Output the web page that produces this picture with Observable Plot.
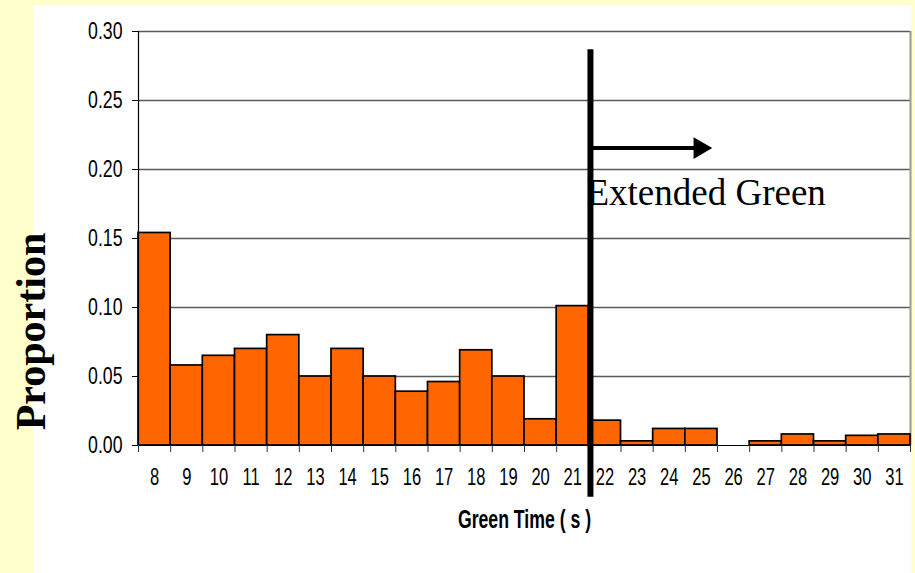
<!DOCTYPE html>
<html><head><meta charset="utf-8">
<script src="https://cdn.jsdelivr.net/npm/d3@7"></script>
<script src="https://cdn.jsdelivr.net/npm/@observablehq/plot@0.6"></script>
<style>
html,body{margin:0;padding:0;background:#FFFFCC;overflow:hidden;}
#wrap{position:relative;width:915px;height:573px;}
#panel{position:absolute;left:33px;top:5px;width:878px;height:568px;background:#ffffff;}
#chart{position:absolute;left:0;top:0;}
</style></head><body>
<div id="wrap"><div id="panel"></div><div id="chart"></div></div>
<script>
const greenTimes = [8,9,10,11,12,13,14,15,16,17,18,19,20,21,22,23,24,25,26,27,28,29,30,31];
const proportions = [0.154,0.058,0.065,0.070,0.080,0.050,0.070,0.050,0.039,0.046,0.069,0.050,0.019,0.101,0.018,0.003,0.012,0.012,0,0.003,0.008,0.003,0.007,0.008];
const yTicks = [0,0.05,0.10,0.15,0.20,0.25,0.30];
const gridLines = [0.05,0.10,0.15,0.20,0.25,0.30];
const extendedStart = 21.55;
const arrowEnd = 25.15;
const arrowLevel = 0.2155;
const annotationLevel = 0.1825;
const annotationText = "Extended Green";
const xLabel = "Green Time ( s )";
const yLabel = "Proportion";

const data = greenTimes.map((t, i) => ({t, p: proportions[i]}));
const boundaries = greenTimes.map(t => t - 0.5).concat([greenTimes[greenTimes.length - 1] + 0.5]);
const xMin = boundaries[0], xMax = boundaries[boundaries.length - 1];
const narrow = "'Liberation Sans Narrow', 'Arial Narrow', 'Liberation Sans', Arial, sans-serif";
const serif = "'Liberation Serif', 'Times New Roman', serif";

const chart = Plot.plot({
  width: 915,
  height: 573,
  marginLeft: 138,
  marginRight: 5,
  marginTop: 31,
  marginBottom: 128,
  style: {background: "transparent", overflow: "visible"},
  x: {domain: [xMin, xMax]},
  y: {domain: [0, 0.30]},
  marks: [
    Plot.ruleY(gridLines, {stroke: "#5a5a5a", strokeWidth: 1.3}),
    Plot.ruleX([xMax], {y1: 0, y2: 0.30, stroke: "#9a9a9a", strokeWidth: 2}),
    Plot.rectY(data.filter(d => d.p > 0), {x1: d => d.t - 0.5, x2: d => d.t + 0.5, y: "p", fill: "#FF6600", stroke: "#000", strokeWidth: 1.7}),
    Plot.ruleY([0], {stroke: "#000", strokeWidth: 1.2}),
    Plot.ruleX([xMin], {y1: 0, y2: 0.30, stroke: "#000", strokeWidth: 1.2}),
    Plot.axisY({ticks: yTicks, tickFormat: d3.format(".2f"), tickSize: 6, tickPadding: 10, label: null, fontSize: 23, fontFamily: narrow, color: "#000"}),
    Plot.axisX({ticks: greenTimes, tickFormat: d => String(d), tickSize: 0, tickPadding: 23, label: null, fontSize: 23, fontFamily: narrow, color: "#000"}),
    Plot.axisX({ticks: boundaries, tickFormat: () => "", tickSize: 7, label: null, stroke: "#333"}),
    Plot.text([xLabel], {frameAnchor: "bottom", textAnchor: "middle", dy: 82, fontSize: 26, fontWeight: "bold", fontFamily: narrow, fill: "#000"}),
    Plot.text([yLabel], {frameAnchor: "left", textAnchor: "middle", rotate: -90, dx: -107, dy: 93, fontSize: 42, fontWeight: "bold", fontFamily: serif, fill: "#000"}),
    Plot.ruleX([extendedStart], {y1: -0.0375, y2: 0.2867, stroke: "#000", strokeWidth: 6}),
    Plot.ruleY([arrowLevel], {x1: extendedStart, x2: arrowEnd - 0.3, stroke: "#000", strokeWidth: 4}),
    Plot.dot([arrowLevel], {x: () => arrowEnd - 0.2, y: d => d, symbol: "triangle", rotate: 90, r: 8, fill: "#000", stroke: "none"}),
    Plot.text([annotationText], {x: () => extendedStart, y: () => annotationLevel, textAnchor: "start", dx: -4, fontSize: 37, fontFamily: serif, fill: "#000"})
  ]
});
document.getElementById("chart").appendChild(chart);

// Condense the sans-serif texts horizontally (Arial Narrow look of the original)
function condenseText(t, s) {
  let x = parseFloat(t.getAttribute("x"));
  if (!isFinite(x)) x = 0;
  const tr = t.getAttribute("transform") || "";
  t.setAttribute("transform", `${tr} translate(${x},0) scale(${s},1) translate(${-x},0)`);
}
chart.querySelectorAll('g[aria-label="y-axis tick label"] text').forEach(t => condenseText(t, 0.77));
chart.querySelectorAll('g[aria-label="x-axis tick label"] text').forEach(t => condenseText(t, 0.72));
chart.querySelectorAll('text').forEach(t => { if (t.textContent === xLabel) condenseText(t, 0.68); });
</script>
</body></html>
